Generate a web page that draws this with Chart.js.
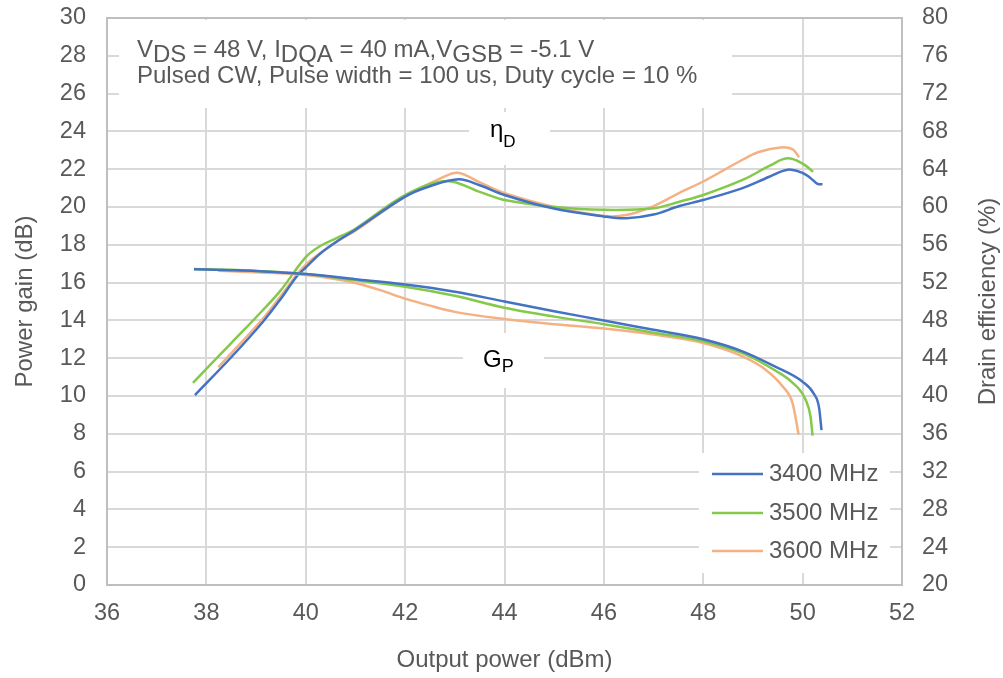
<!DOCTYPE html>
<html>
<head>
<meta charset="utf-8">
<script src="https://cdn.jsdelivr.net/npm/chart.js@4.4.0/dist/chart.umd.min.js"></script>
<style>
  html, body { margin: 0; padding: 0; background: #fff; }
  #wrap { width: 1003px; height: 678px; }
</style>
</head>
<body>
<div id="wrap"><canvas id="chart" width="1003" height="678"></canvas></div>
<script>
const FONT = '"Liberation Sans", Arial, sans-serif';
const TEXT_GRAY = '#595959';

// --- data ---
const freqLabels = ['3400 MHz', '3500 MHz', '3600 MHz'];
const freqColors = ['#4472c4', '#84c94a', '#f4b183'];

// power gain (left axis, dB) vs output power (dBm)
const gainPout3400 = [37.75, 38.5, 39, 40, 41, 42, 43, 44, 45, 46, 47, 48, 48.8, 49.45, 50.0, 50.23, 50.33, 50.38];
const gain3400 = [16.7, 16.66, 16.62, 16.45, 16.18, 15.9, 15.52, 15.0, 14.48, 14.0, 13.5, 13.0, 12.35, 11.55, 10.75, 10.1, 9.4, 8.2];
const gainPout3500 = [37.75, 38.5, 39, 40, 41, 42, 43, 44, 45, 46, 47, 48, 48.8, 49.45, 49.8, 50.06, 50.16, 50.2];
const gain3500 = [16.72, 16.68, 16.62, 16.45, 16.12, 15.78, 15.3, 14.67, 14.2, 13.8, 13.35, 12.9, 12.26, 11.35, 10.7, 9.8, 8.9, 7.9];
const gainPout3600 = [38.24, 39, 40, 41, 41.5, 42, 42.5, 43, 44, 45, 46, 47, 48, 48.8, 49.26, 49.6, 49.8, 49.92];
const gain3600 = [16.63, 16.55, 16.4, 15.98, 15.6, 15.15, 14.78, 14.45, 14.07, 13.8, 13.57, 13.25, 12.8, 12.08, 11.38, 10.5, 9.6, 7.95];

// drain efficiency (right axis, %) vs output power (dBm)
const effPout3400 = [37.77, 38.5, 39.14, 39.5, 39.81, 40, 40.3, 40.62, 41, 42, 42.5, 43.08, 43.5, 44, 44.97, 46, 46.45, 47, 47.52, 48, 48.79, 49.33, 49.7, 50.0, 50.15, 50.3, 50.4];
const eff3400 = [40.1, 44.1, 47.86, 50.3, 52.6, 53.6, 55.1, 56.33, 57.6, 61.1, 62.2, 62.93, 62.3, 61.27, 59.86, 59.0, 58.8, 59.2, 60.1, 60.74, 62.0, 63.2, 63.95, 63.6, 63.1, 62.45, 62.4];
const effPout3500 = [37.73, 38.5, 39.14, 39.5, 40, 40.3, 40.62, 41, 42, 42.83, 43.5, 44, 44.97, 46, 47, 47.52, 48, 48.79, 49.33, 49.69, 50.0, 50.21];
const eff3500 = [41.4, 45.6, 49.1, 51.2, 54.7, 55.9, 56.7, 57.7, 61.27, 62.75, 61.6, 60.74, 60.03, 59.7, 59.86, 60.56, 61.27, 62.86, 64.34, 65.15, 64.6, 63.73];
const effPout3600 = [38.24, 39.14, 39.5, 40, 40.62, 41, 42, 42.7, 43.06, 43.5, 44, 44.97, 46, 46.45, 47, 47.52, 48, 48.79, 49.13, 49.56, 49.8, 49.93];
const eff3600 = [43.04, 48.2, 50.6, 53.9, 56.3, 57.5, 61.1, 63.0, 63.63, 62.6, 61.45, 60.03, 59.05, 59.15, 60.1, 61.5, 62.7, 65.0, 65.85, 66.3, 66.1, 65.26];

const gainSeries = [[gainPout3400, gain3400], [gainPout3500, gain3500], [gainPout3600, gain3600]];
const effSeries = [[effPout3400, eff3400], [effPout3500, eff3500], [effPout3600, eff3600]];

function toPoints(xs, ys) { return xs.map((x, i) => ({ x: x, y: ys[i] })); }

function lineSet(label, color, pts, axis, mode) {
  return {
    label: label, data: pts, yAxisID: axis,
    borderColor: color, backgroundColor: color, borderWidth: 2.5,
    pointRadius: 0, fill: false, cubicInterpolationMode: mode, tension: 0.35
  };
}

const datasets = [];
gainSeries.forEach((s, i) => datasets.push(lineSet(freqLabels[i], freqColors[i], toPoints(s[0], s[1]), 'y', 'monotone')));
effSeries.forEach((s, i) => datasets.push(lineSet(freqLabels[i] + ' eff', freqColors[i], toPoints(s[0], s[1]), 'y2', 'default')));

// text with a subscript run: parts = [[text, isSub], ...]
function drawRich(ctx, x, y, parts, size, subSize, drop, color) {
  ctx.fillStyle = color;
  ctx.textBaseline = 'alphabetic';
  ctx.textAlign = 'left';
  parts.forEach(p => {
    ctx.font = (p[1] ? subSize : size) + 'px ' + FONT;
    ctx.fillText(p[0], x, p[1] ? y + drop : y);
    x += ctx.measureText(p[0]).width;
  });
}

const decorations = {
  id: 'decorations',
  beforeDatasetsDraw(chart) {
    const ctx = chart.ctx, a = chart.chartArea;
    ctx.save();
    ctx.fillStyle = '#fff';
    // white boxes behind the labels and legend, as in the original
    ctx.fillRect(119, 20, 613, 88);
    ctx.fillRect(469, 112, 81, 53);
    ctx.fillRect(463, 333, 81, 55);
    ctx.fillRect(699, 453, 191, 120);
    ctx.strokeStyle = '#bfbfbf';
    ctx.lineWidth = 2;
    ctx.strokeRect(a.left, a.top, a.right - a.left, a.bottom - a.top);
    ctx.restore();
  },
  afterDatasetsDraw(chart) {
    const ctx = chart.ctx, a = chart.chartArea;
    ctx.save();
    drawRich(ctx, 137, 57, [['V', 0], ['DS', 1], [' = 48 V, I', 0], ['DQA', 1], [' = 40 mA,V', 0], ['GSB', 1], [' = -5.1 V', 0]], 24, 24, 5, TEXT_GRAY);
    drawRich(ctx, 137, 83, [['Pulsed CW, Pulse width = 100 us, Duty cycle = 10 %', 0]], 24, 24, 5, TEXT_GRAY);
    drawRich(ctx, 490, 137, [['η', 0], ['D', 1]], 24, 17, 10, '#000');
    drawRich(ctx, 483, 367, [['G', 0], ['P', 1]], 24, 18, 5, '#000');

    // legend
    const rows = [474, 513, 551];
    freqLabels.forEach((lab, i) => {
      ctx.strokeStyle = freqColors[i];
      ctx.lineWidth = 2.5;
      ctx.beginPath();
      ctx.moveTo(712, rows[i]);
      ctx.lineTo(763, rows[i]);
      ctx.stroke();
      ctx.fillStyle = TEXT_GRAY;
      ctx.font = '24px ' + FONT;
      ctx.textBaseline = 'middle';
      ctx.textAlign = 'left';
      ctx.fillText(lab, 769, rows[i]);
    });

    // secondary axis title, reading bottom to top
    ctx.translate(988, (a.top + a.bottom) / 2);
    ctx.rotate(-Math.PI / 2);
    ctx.fillStyle = TEXT_GRAY;
    ctx.font = '24px ' + FONT;
    ctx.textAlign = 'center';
    ctx.textBaseline = 'middle';
    ctx.fillText('Drain efficiency (%)', 0, 0);
    ctx.restore();
  }
};

const tickFont = { family: FONT, size: 23.5 };
const titleFont = { family: FONT, size: 24 };

// fixed axis sizes so the plot area sits where it does in the original
function fixWidth(w) {
  return s => { s.width = w; s.paddingTop = 0; s.paddingBottom = 0; };
}

new Chart(document.getElementById('chart'), {
  type: 'line',
  data: { datasets: datasets },
  options: {
    responsive: false,
    animation: false,
    devicePixelRatio: 1,
    layout: { padding: { top: 18, left: 0, right: 0, bottom: 0 } },
    plugins: { legend: { display: false }, tooltip: { enabled: false } },
    scales: {
      x: {
        type: 'linear', min: 36, max: 52,
        ticks: { stepSize: 2, color: TEXT_GRAY, font: tickFont, padding: 14, maxRotation: 0 },
        grid: { color: '#d9d9d9', lineWidth: 2, drawTicks: false },
        border: { color: '#bfbfbf', width: 2 },
        title: { display: true, text: 'Output power (dBm)', color: TEXT_GRAY, font: titleFont, padding: { top: 0, bottom: 3 } },
        afterFit: s => { s.height = 93; s.paddingLeft = 0; s.paddingRight = 0; }
      },
      y: {
        position: 'left', min: 0, max: 30,
        ticks: { stepSize: 2, color: TEXT_GRAY, font: tickFont, padding: 21 },
        grid: { color: '#d9d9d9', lineWidth: 2, drawTicks: false },
        border: { color: '#bfbfbf', width: 2 },
        title: { display: true, text: 'Power gain (dB)', color: TEXT_GRAY, font: titleFont, padding: { top: 11, bottom: 0 } },
        afterFit: fixWidth(107)
      },
      y2: {
        position: 'right', min: 20, max: 80,
        ticks: { stepSize: 4, color: TEXT_GRAY, font: tickFont, padding: 20 },
        grid: { drawOnChartArea: false, drawTicks: false },
        border: { color: '#bfbfbf', width: 2 },
        afterFit: fixWidth(101)
      }
    }
  },
  plugins: [decorations]
});
</script>
</body>
</html>
